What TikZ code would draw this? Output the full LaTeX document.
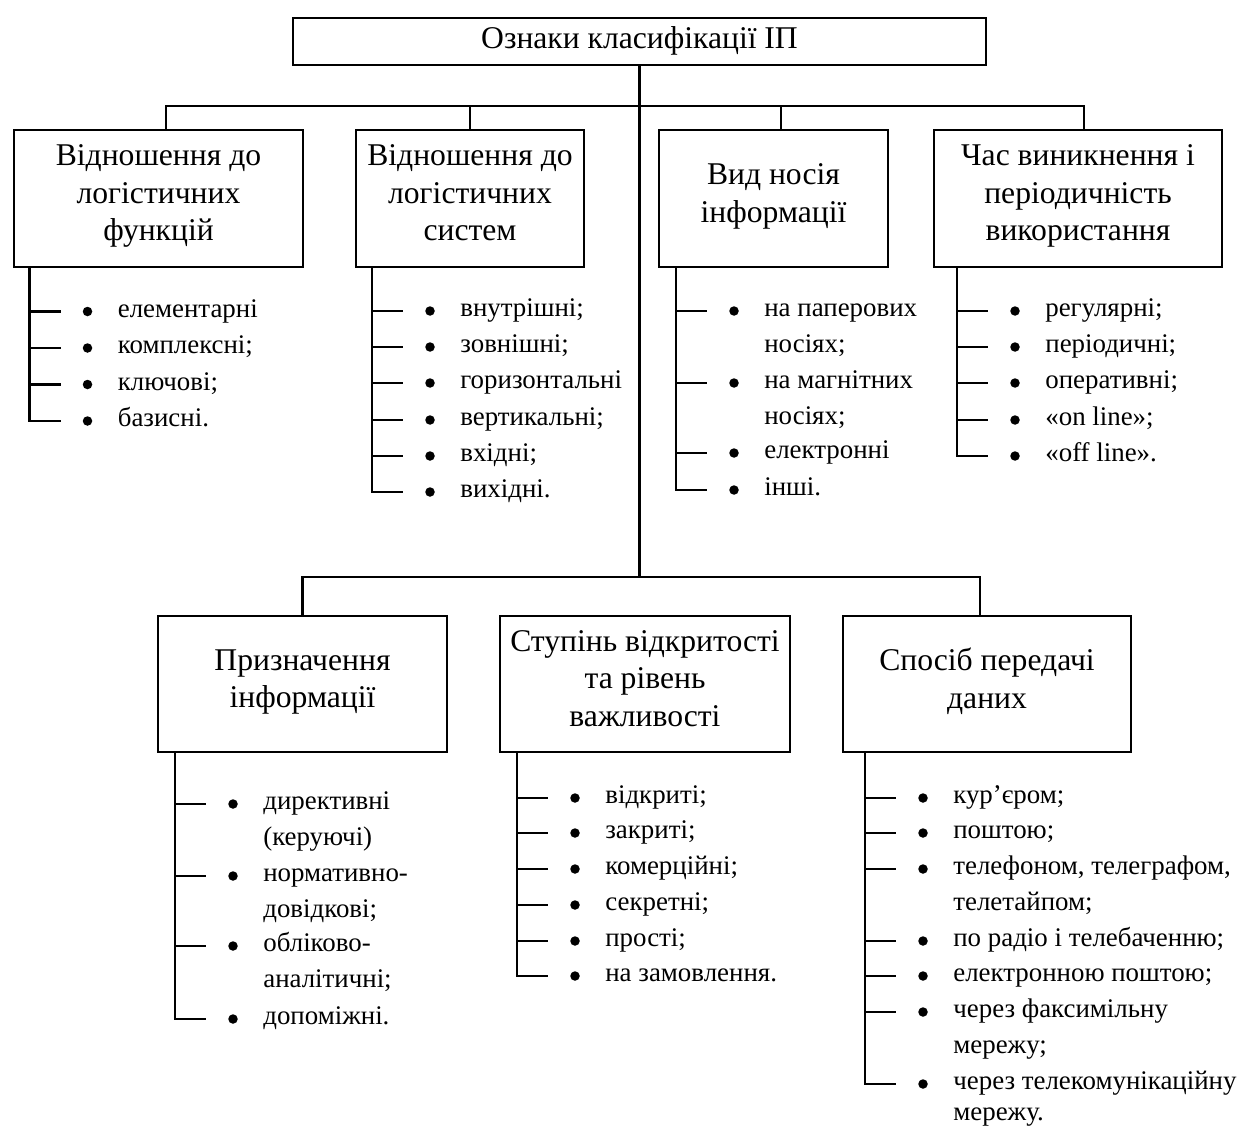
\documentclass[tikz,border=0pt]{standalone}
\usepackage{fontspec}
\setmainfont{Liberation Serif}
\usetikzlibrary{positioning}
\tikzset{
  ln/.style={line width=1.2pt, line cap=rect},
  hbox/.style={draw, line width=1.1pt, align=center, inner sep=0pt,
    font=\fontsize{18}{21.3}\selectfont, minimum height=2.74cm,
    execute at begin node=\strut, execute at end node=\strut},
  itm/.style={anchor=base west, inner sep=0pt,
    font=\fontsize{15.3}{20.5}\selectfont},
}
\newcommand{\bulitem}[3]{%
  \coordinate (#1) at #2;
  \draw[ln] (#1) -- ++(0.6,0);
  \fill ([xshift=1.16cm]#1) circle (0.095);
  \node[itm] (#1t) at ([shift={(1.76,-0.11)}]#1)
    {\begin{tabular}[t]{@{}l@{}}#3\end{tabular}};
}

\begin{document}
\begin{tikzpicture}
  \useasboundingbox (0,0) rectangle (24.8,-22.52);
  % root
  \node[hbox, minimum width=13.86cm, minimum height=0.94cm] (root) at (12.79,-0.83) {Ознаки класифікації ІП};
  % upper row of features
  \node[hbox, minimum width=5.78cm] (f1) at (3.17,-3.97) {Відношення до\\логістичних\\функцій};
  \node[hbox, minimum width=4.56cm] (f2) at (9.40,-3.97) {Відношення до\\логістичних\\систем};
  \node[hbox, minimum width=4.58cm] (f3) at (15.47,-3.97) {Вид носія\\інформації};
  \node[hbox, minimum width=5.76cm] (f4) at (21.56,-3.97) {Час виникнення і\\періодичність\\використання};
  % lower row of features
  \node[hbox, minimum width=5.78cm, minimum height=2.72cm] (g1) at (6.05,-13.68) {Призначення\\інформації};
  \node[hbox, minimum width=5.80cm, minimum height=2.72cm] (g2) at (12.90,-13.68) {Ступінь відкритості\\та рівень\\важливості};
  \node[hbox, minimum width=5.76cm, minimum height=2.72cm] (g3) at (19.74,-13.68) {Спосіб передачі\\даних};

  % buses
  \coordinate (jn) at ([yshift=0.76cm]g1.north);
  \draw[ln] (root.south) -- (root.south |- jn);
  \draw[ln] ([xshift=0.15cm]f1.north) -- ++(0,0.46) -| ([xshift=0.12cm]f4.north);
  \draw[ln] (f2.north) -- ++(0,0.46);
  \draw[ln] ([xshift=0.15cm]f3.north) -- ++(0,0.46);
  \draw[ln] (g1.north) -- (jn) -| ([xshift=-0.14cm]g3.north);

  % lists
  \bulitem{a1}{(0.59,-6.23)}{елементарні}
  \bulitem{a2}{(0.59,-6.96)}{комплексні;}
  \bulitem{a3}{(0.59,-7.69)}{ключові;}
  \bulitem{a4}{(0.59,-8.42)}{базисні.}
  \draw[ln] (f1.south -| a4) -- (a4);

  \bulitem{b1}{(7.44,-6.22)}{внутрішні;}
  \bulitem{b2}{(7.44,-6.94)}{зовнішні;}
  \bulitem{b3}{(7.44,-7.66)}{горизонтальні}
  \bulitem{b4}{(7.44,-8.40)}{вертикальні;}
  \bulitem{b5}{(7.44,-9.12)}{вхідні;}
  \bulitem{b6}{(7.44,-9.84)}{вихідні.}
  \draw[ln] (f2.south -| b6) -- (b6);

  \bulitem{c1}{(13.52,-6.22)}{на паперових\\носіях;}
  \bulitem{c2}{(13.52,-7.66)}{на магнітних\\носіях;}
  \bulitem{c3}{(13.52,-9.06)}{електронні}
  \bulitem{c4}{(13.52,-9.80)}{інші.}
  \draw[ln] (f3.south -| c4) -- (c4);

  \bulitem{d1}{(19.14,-6.22)}{регулярні;}
  \bulitem{d2}{(19.14,-6.94)}{періодичні;}
  \bulitem{d3}{(19.14,-7.66)}{оперативні;}
  \bulitem{d4}{(19.14,-8.40)}{«on line»;}
  \bulitem{d5}{(19.14,-9.12)}{«off line».}
  \draw[ln] (f4.south -| d5) -- (d5);

  \bulitem{e1}{(3.50,-16.08)}{директивні\\(керуючі)}
  \bulitem{e2}{(3.50,-17.52)}{нормативно-\\довідкові;}
  \bulitem{e3}{(3.50,-18.92)}{обліково-\\аналітичні;}
  \bulitem{e4}{(3.50,-20.38)}{допоміжні.}
  \draw[ln] (g1.south -| e4) -- (e4);

  \bulitem{h1}{(10.34,-15.96)}{відкриті;}
  \bulitem{h2}{(10.34,-16.66)}{закриті;}
  \bulitem{h3}{(10.34,-17.38)}{комерційні;}
  \bulitem{h4}{(10.34,-18.10)}{секретні;}
  \bulitem{h5}{(10.34,-18.82)}{прості;}
  \bulitem{h6}{(10.34,-19.52)}{на замовлення.}
  \draw[ln] (g2.south -| h6) -- (h6);

  \bulitem{k1}{(17.30,-15.96)}{кур’єром;}
  \bulitem{k2}{(17.30,-16.66)}{поштою;}
  \bulitem{k3}{(17.30,-17.38)}{телефоном, телеграфом,\\телетайпом;}
  \bulitem{k4}{(17.30,-18.82)}{по радіо і телебаченню;}
  \bulitem{k5}{(17.30,-19.52)}{електронною поштою;}
  \bulitem{k6}{(17.30,-20.24)}{через факсимільну\\мережу;}
  \bulitem{k7}{(17.30,-21.68)}{через телекомунікаційну\\[-0.1cm]мережу.}
  \draw[ln] (g3.south -| k7) -- (k7);
\end{tikzpicture}
\end{document}
